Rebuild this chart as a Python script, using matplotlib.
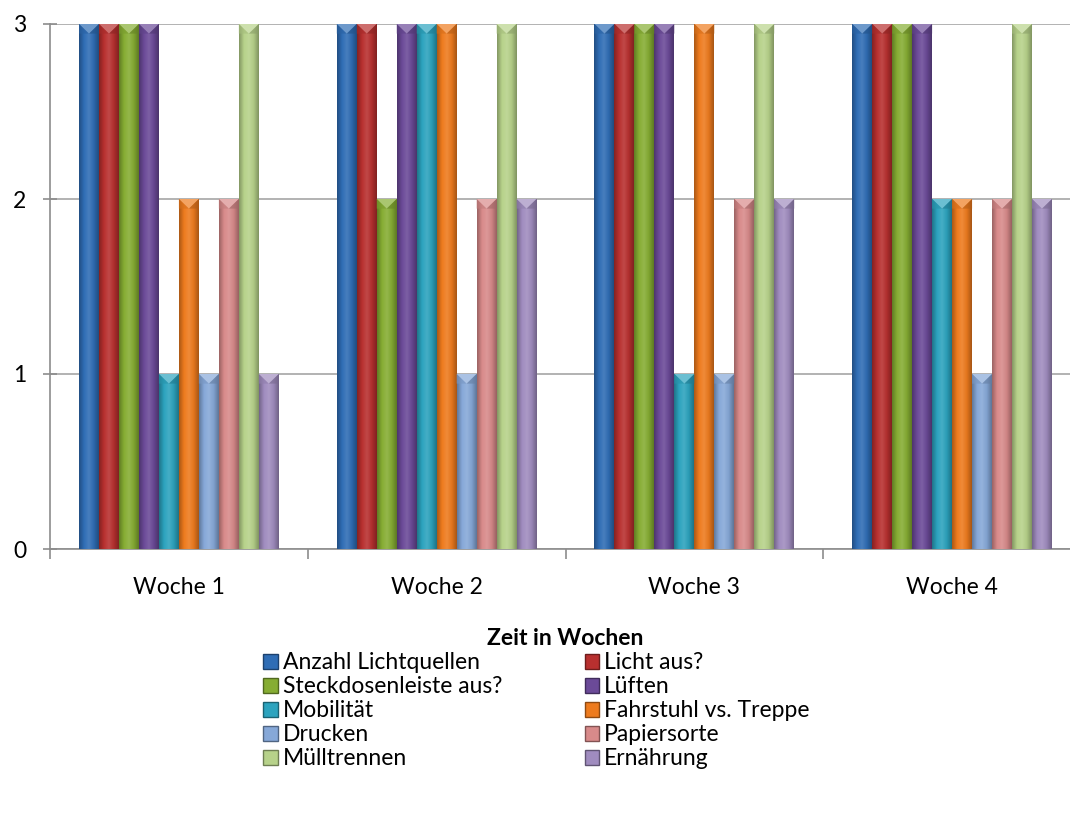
import numpy as np
import matplotlib
matplotlib.use("Agg")
import matplotlib.pyplot as plt
from matplotlib.colors import LinearSegmentedColormap, to_rgb
from matplotlib.patches import Polygon, Patch

plt.rcParams['font.family'] = ['Lato', 'DejaVu Sans']

weeks = ['Woche 1', 'Woche 2', 'Woche 3', 'Woche 4']
series = ['Anzahl Lichtquellen', 'Licht aus?', 'Steckdosenleiste aus?', 'Lüften',
          'Mobilität', 'Fahrstuhl vs. Treppe', 'Drucken', 'Papiersorte',
          'Mülltrennen', 'Ernährung']
# one row per series, one value per week
values = [
    [3, 3, 3, 3],
    [3, 3, 3, 3],
    [3, 2, 3, 3],
    [3, 3, 3, 3],
    [1, 3, 1, 2],
    [2, 3, 3, 2],
    [1, 1, 1, 1],
    [2, 2, 2, 2],
    [3, 3, 3, 3],
    [1, 2, 2, 2],
]
colors = ['#2F6DB5', '#B8302F', '#86AD33', '#6B4A98', '#2CA3BE',
          '#EE7B1E', '#86A8D8', '#D88A8A', '#B7D28A', '#A08CBF']


def shade(c, f):
    r = np.array(to_rgb(c))
    if f < 1:
        return tuple(r * f)
    return tuple(r + (1 - r) * (f - 1))


fig = plt.figure(figsize=(10.7, 8.19), dpi=100)
ax = fig.add_axes([50 / 1070, 1 - 549 / 819, 1031 / 1070, 525 / 819])

n = len(series)
width = 0.0775
x = np.arange(len(weeks))
grad = np.linspace(0, 1, 64).reshape(1, -1)
fs = 16.5

for i, (name, vals, c) in enumerate(zip(series, values, colors)):
    pos = x + (i - (n - 1) / 2) * width
    bars = ax.bar(pos, vals, width, color=c, edgecolor='none', zorder=3)
    cmap = LinearSegmentedColormap.from_list(
        'b%d' % i, [shade(c, 0.72), shade(c, 1.0), shade(c, 1.12), shade(c, 0.95), shade(c, 0.7)])
    for b, v in zip(bars, vals):
        x0 = b.get_x()
        x1 = x0 + b.get_width()
        im = ax.imshow(grad, extent=[x0, x1, 0, v], cmap=cmap, aspect='auto',
                       interpolation='bilinear', zorder=4)
        im.set_clip_path(b)
        # bevelled top
        d = 0.055
        ax.add_patch(Polygon([(x0, v), (x1, v), ((x0 + x1) / 2, v - d)],
                             closed=True, facecolor=shade(c, 1.3), edgecolor='none', zorder=5))
        ax.add_patch(Polygon([(x0, v), ((x0 + x1) / 2, v - d), (x0, v - d)],
                             closed=True, facecolor=shade(c, 0.9), edgecolor='none', zorder=5, alpha=0.6))
        ax.add_patch(Polygon([(x1, v), ((x0 + x1) / 2, v - d), (x1, v - d)],
                             closed=True, facecolor=shade(c, 0.75), edgecolor='none', zorder=5, alpha=0.6))

ax.set_xlim(-0.5, len(weeks) - 0.5)
ax.set_ylim(0, 3)
ax.set_yticks([0, 1, 2, 3])
ax.yaxis.grid(True, color='#A6A6A6', linewidth=1.2, zorder=0)
ax.set_axisbelow(True)

ax.set_xticks(x)
ax.set_xticklabels(weeks, fontsize=fs)
ax.set_xticks(np.arange(len(weeks) + 1) - 0.5, minor=True)
ax.tick_params(axis='x', which='major', length=0, pad=20)
ax.tick_params(axis='x', which='minor', length=7, color='#8C8C8C', width=1.2)
ax.tick_params(axis='y', length=10, direction='inout', color='#8C8C8C', width=1.2,
               labelsize=fs, pad=12)

for side in ['top', 'right']:
    ax.spines[side].set_visible(False)
for side in ['left', 'bottom']:
    ax.spines[side].set_color('#8C8C8C')
    ax.spines[side].set_linewidth(1.2)

ax.set_xlabel('Zeit in Wochen', fontsize=fs, fontweight='bold', labelpad=22)

# legend laid out row by row
handles = [Patch(facecolor=c, edgecolor=shade(c, 0.6)) for c in colors]
order = list(range(0, n, 2)) + list(range(1, n, 2))
fig.legend([handles[k] for k in order], [series[k] for k in order],
           ncol=2, frameon=False, loc='upper left', bbox_to_anchor=(252 / 1070, 1 - 641 / 819),
           fontsize=fs, handlelength=0.62, handleheight=0.62, handletextpad=0.22,
           columnspacing=3.6, labelspacing=0.13, borderpad=0)

fig.savefig('out.png', dpi=100)
